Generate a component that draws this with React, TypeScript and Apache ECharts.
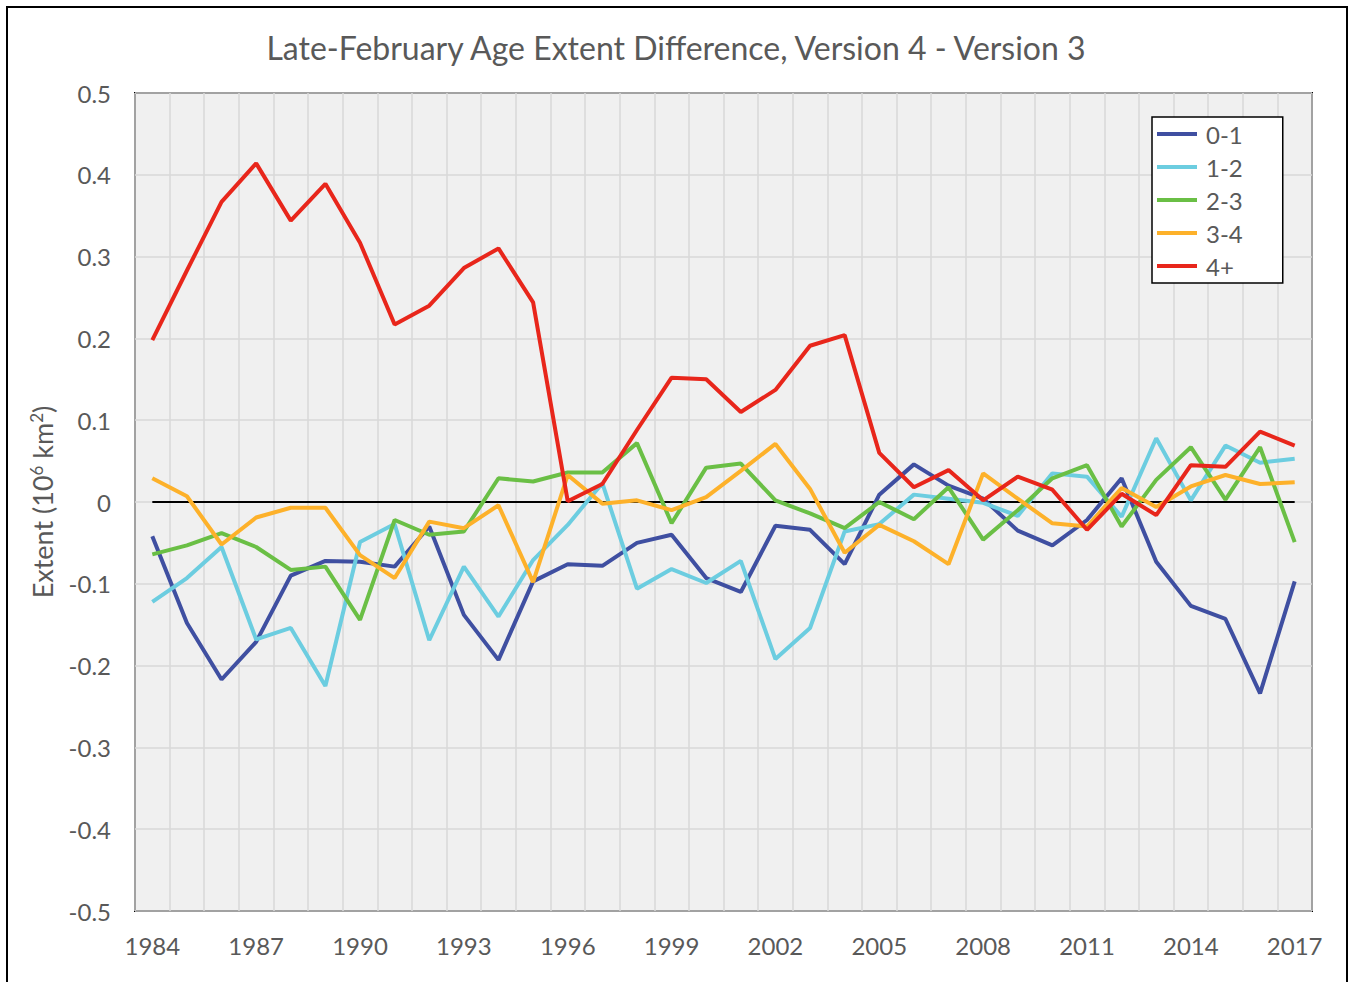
import React, { useEffect, useRef } from "react";
import * as echarts from "echarts";

const years = [
  "1984","1985","1986","1987","1988","1989","1990","1991","1992","1993","1994","1995",
  "1996","1997","1998","1999","2000","2001","2002","2003","2004","2005","2006","2007",
  "2008","2009","2010","2011","2012","2013","2014","2015","2016","2017",
];

const age01 = [
  -0.042, -0.148, -0.217, -0.171, -0.090, -0.072, -0.073, -0.079, -0.030, -0.138, -0.193, -0.097,
  -0.076, -0.078, -0.050, -0.040, -0.093, -0.110, -0.029, -0.034, -0.076, 0.009, 0.046, 0.020,
  0.004, -0.035, -0.053, -0.022, 0.029, -0.073, -0.127, -0.143, -0.234, -0.097,
];
const age12 = [
  -0.122, -0.093, -0.055, -0.168, -0.154, -0.225, -0.049, -0.027, -0.169, -0.079, -0.140, -0.071,
  -0.028, 0.023, -0.106, -0.082, -0.099, -0.072, -0.192, -0.154, -0.036, -0.027, 0.009, 0.004,
  -0.001, -0.017, 0.035, 0.031, -0.018, 0.078, 0.002, 0.069, 0.048, 0.053,
];
const age23 = [
  -0.064, -0.053, -0.038, -0.055, -0.083, -0.079, -0.144, -0.022, -0.040, -0.036, 0.029, 0.025,
  0.036, 0.036, 0.072, -0.026, 0.042, 0.047, 0.002, -0.014, -0.032, 0.0, -0.021, 0.018,
  -0.046, -0.010, 0.029, 0.045, -0.030, 0.027, 0.067, 0.003, 0.067, -0.049,
];
const age34 = [
  0.029, 0.007, -0.052, -0.019, -0.007, -0.007, -0.065, -0.093, -0.024, -0.032, -0.004, -0.098,
  0.033, -0.002, 0.002, -0.010, 0.006, 0.038, 0.071, 0.016, -0.062, -0.028, -0.048, -0.076,
  0.035, 0.004, -0.026, -0.030, 0.017, -0.006, 0.019, 0.033, 0.022, 0.024,
];
const age4p = [
  0.198, 0.283, 0.367, 0.414, 0.344, 0.389, 0.317, 0.217, 0.240, 0.286, 0.310, 0.244,
  0.001, 0.022, 0.088, 0.152, 0.150, 0.110, 0.137, 0.191, 0.204, 0.060, 0.018, 0.039,
  0.002, 0.031, 0.015, -0.034, 0.010, -0.016, 0.045, 0.043, 0.086, 0.069,
];

const seriesNames = ["0-1", "1-2", "2-3", "3-4", "4+"];
const seriesColors = ["#3f4fa1", "#6ccde0", "#6abf45", "#fdb12a", "#e8261b"];
const seriesData = [age01, age12, age23, age34, age4p];

const titleText = "Late-February Age Extent Difference, Version 4 - Version 3";
const FONT = "Lato";
const TEXT_COLOR = "#595959";

export default function App() {
  const ref = useRef<HTMLDivElement>(null);
  useEffect(() => {
    if (!ref.current) return;
    const chart = echarts.init(ref.current, null, { renderer: "svg" });
    const series: any[] = seriesNames.map((name, i) => ({
      name,
      type: "line",
      data: seriesData[i],
      symbol: "none",
      lineStyle: { color: seriesColors[i], width: 4 },
      itemStyle: { color: seriesColors[i] },
      z: 3 + i,
    }));
    series[0].markLine = {
      silent: true,
      symbol: "none",
      label: { show: false },
      lineStyle: { color: "#000", width: 2, type: "solid" },
      z: 2,
      data: [[{ coord: [years[0], 0] }, { coord: [years[years.length - 1], 0] }]],
    };
    chart.setOption({
      animation: false,
      backgroundColor: "#fff",
      textStyle: { fontFamily: FONT },
      title: {
        text: titleText,
        left: "center",
        top: 26,
        textStyle: { fontFamily: FONT, fontSize: 32, fontWeight: "normal", color: TEXT_COLOR },
      },
      graphic: [
        {
          type: "rect",
          shape: { x: 7, y: 7, width: 1340, height: 1010 },
          style: { fill: "none", stroke: "#000", lineWidth: 2 },
          silent: true,
          z: 100,
        },
      ],
      grid: {
        left: 135,
        top: 93,
        right: 40,
        bottom: 71,
        show: true,
        backgroundColor: "#f0f0f0",
        borderColor: "#000",
        borderWidth: 2,
      },
      legend: {
        orient: "vertical",
        left: 1152,
        top: 117,
        data: seriesNames,
        icon: "rect",
        itemWidth: 40,
        itemHeight: 4,
        itemGap: 9,
        padding: [5, 40, 5, 5],
        backgroundColor: "#fff",
        borderColor: "#000",
        borderWidth: 1.5,
        textStyle: { fontFamily: FONT, fontSize: 24, color: TEXT_COLOR, lineHeight: 24, padding: [0, 0, 0, 4] },
      },
      xAxis: {
        type: "category",
        data: years,
        boundaryGap: true,
        axisLine: { show: false },
        axisTick: { show: false },
        axisLabel: { interval: 2, fontFamily: FONT, fontSize: 24, color: TEXT_COLOR, margin: 22 },
        splitLine: { show: true, interval: 0, lineStyle: { color: "#d9d9d9", width: 1.5 } },
      },
      yAxis: {
        type: "value",
        min: -0.5,
        max: 0.5,
        interval: 0.1,
        axisLine: { show: false },
        axisTick: { show: false },
        axisLabel: { fontFamily: FONT, fontSize: 24, color: TEXT_COLOR, margin: 24 },
        splitLine: { show: true, lineStyle: { color: "#d9d9d9", width: 1.5 } },
        name: "Extent (10{sup|6} km{sup|2})",
        nameLocation: "middle",
        nameGap: 78,
        nameTextStyle: {
          fontFamily: FONT,
          fontSize: 27,
          color: TEXT_COLOR,
          rich: {
            sup: { fontFamily: FONT, fontSize: 17, color: TEXT_COLOR, verticalAlign: "top", padding: [0, 0, 12, 0] },
          },
        },
      },
      series,
    });
    return () => chart.dispose();
  }, []);
  return (
    <div
      ref={ref}
      style={{ position: "fixed", left: 0, top: 0, width: 1352, height: 982 }}
    />
  );
}
